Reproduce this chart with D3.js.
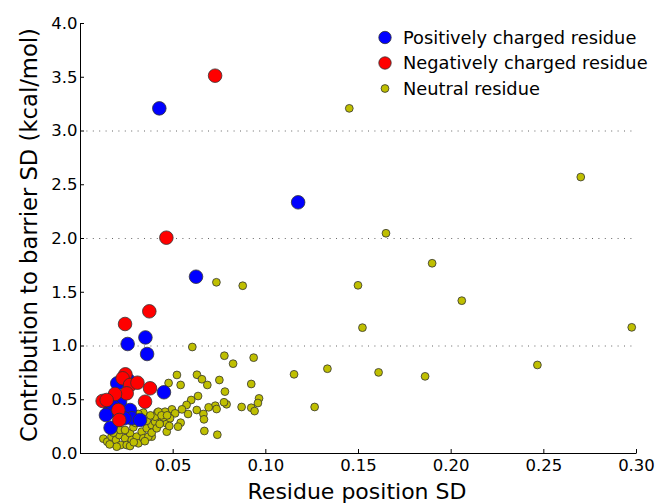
<!DOCTYPE html>
<html>
<head>
<meta charset="utf-8">
<script src="https://cdn.jsdelivr.net/npm/d3@7/dist/d3.min.js"></script>
<style>
  html, body { margin: 0; padding: 0; background: #fff; }
  svg { display: block; font-family: "DejaVu Sans", sans-serif; }
</style>
</head>
<body>
<svg id="chart" width="657" height="504"></svg>
<script>
// ---- data (x = residue position SD, y = contribution to barrier SD) ----
const positiveX = [0.0428, 0.1177, 0.0626, 0.0353, 0.0257, 0.0362, 0.0453, 0.0201, 0.0260, 0.0216, 0.0158, 0.0180, 0.0270, 0.0279, 0.0324, 0.0239, 0.0165, 0.0140];
const positiveY = [3.206, 2.332, 1.640, 1.075, 1.014, 0.921, 0.565, 0.648, 0.679, 0.477, 0.384, 0.431, 0.400, 0.323, 0.307, 0.323, 0.235, 0.353];

const negativeX = [0.0729, 0.0466, 0.0374, 0.0243, 0.0245, 0.0230, 0.0270, 0.0310, 0.0378, 0.0252, 0.0189, 0.0122, 0.0144, 0.0351, 0.0207, 0.0212];
const negativeY = [3.510, 2.003, 1.318, 1.200, 0.732, 0.695, 0.633, 0.654, 0.602, 0.555, 0.549, 0.484, 0.493, 0.477, 0.400, 0.307];

const neutralX = [
  0.1453, 0.2702, 0.1651, 0.1900, 0.0736, 0.0878, 0.1500, 0.2060, 0.1524, 0.2977,
  0.1335, 0.1611, 0.1862, 0.2468, 0.1155, 0.1266, 0.0966, 0.0960,
  0.0606, 0.0779, 0.0937, 0.0826, 0.0523, 0.0631, 0.0658, 0.0687, 0.0752, 0.0478,
  0.0543, 0.0924, 0.0782, 0.0637, 0.0600, 0.0575, 0.0791, 0.0777, 0.0730, 0.0737,
  0.0694, 0.0872, 0.0924, 0.0942, 0.0630, 0.0666, 0.0669, 0.0583, 0.0550, 0.0496,
  0.0513, 0.0543, 0.0529, 0.0671, 0.0741, 0.0468, 0.0468, 0.0459, 0.0450, 0.0417,
  0.0414, 0.0400, 0.0387, 0.0387, 0.0486, 0.0482,
  0.0126, 0.0147, 0.0170, 0.0194, 0.0212, 0.0220, 0.0243, 0.0252, 0.0270, 0.0279,
  0.0306, 0.0315, 0.0333, 0.0342, 0.0360, 0.0369, 0.0387, 0.0387, 0.0405, 0.0414,
  0.0342, 0.0315, 0.0216, 0.0180, 0.0288, 0.0243, 0.0198, 0.0270, 0.0405, 0.0423,
  0.0300, 0.0330, 0.0360, 0.0380, 0.0440, 0.0290, 0.0160, 0.0350, 0.0430, 0.0470
];
const neutralY = [
  3.206, 2.567, 2.044, 1.765, 1.588, 1.556, 1.560, 1.417, 1.166, 1.169,
  0.784, 0.750, 0.713, 0.819, 0.732, 0.428, 0.508, 0.465,
  0.986, 0.905, 0.887, 0.831, 0.726, 0.728, 0.686, 0.633, 0.679, 0.651,
  0.633, 0.642, 0.571, 0.530, 0.493, 0.447, 0.453, 0.472, 0.440, 0.409,
  0.425, 0.428, 0.421, 0.390, 0.400, 0.363, 0.313, 0.363, 0.406, 0.406,
  0.369, 0.282, 0.245, 0.205, 0.170, 0.275, 0.198, 0.384, 0.332, 0.375,
  0.323, 0.275, 0.230, 0.152, 0.323, 0.251,
  0.133, 0.105, 0.152, 0.121, 0.167, 0.074, 0.137, 0.074, 0.183, 0.121,
  0.152, 0.090, 0.198, 0.137, 0.230, 0.152, 0.260, 0.189, 0.291, 0.230,
  0.375, 0.363, 0.214, 0.189, 0.239, 0.214, 0.059, 0.065, 0.338, 0.384,
  0.280, 0.320, 0.300, 0.350, 0.350, 0.100, 0.080, 0.110, 0.270, 0.350
];

const xTicks = [0.05, 0.10, 0.15, 0.20, 0.25, 0.30];
const yTicks = [0.0, 0.5, 1.0, 1.5, 2.0, 2.5, 3.0, 3.5, 4.0];
const gridValues = [1.0, 2.0, 3.0];
const legendLabels = ["Positively charged residue", "Negatively charged residue", "Neutral residue"];

(function () {
  const svg = d3.select("#chart");
  const pL = 80, pR = 636, pT = 23, pB = 453;
  const x = d3.scaleLinear().domain([0, 0.30]).range([pL, pR]);
  const y = d3.scaleLinear().domain([0, 4.0]).range([pB, pT]);

  // grid lines
  svg.append("g").selectAll("line").data(gridValues).join("line")
    .attr("x1", pL).attr("x2", pR)
    .attr("y1", d => y(d) + 0.5).attr("y2", d => y(d) + 0.5)
    .attr("stroke", "#666").attr("stroke-width", 1)
    .attr("stroke-dasharray", "1,5.4");

  // points
  const toPts = (xs, ys) => xs.map((v, i) => ({x: v, y: ys[i]}));
  function drawPts(pts, r, fill) {
    svg.append("g").selectAll("circle").data(pts).join("circle")
      .attr("cx", d => x(d.x)).attr("cy", d => y(d.y)).attr("r", r)
      .attr("fill", fill).attr("stroke", "#333").attr("stroke-width", 0.8);
  }
  drawPts(toPts(neutralX, neutralY), 3.9, "#bfbf00");
  drawPts(toPts(positiveX, positiveY), 6.8, "#0000ff");
  drawPts(toPts(negativeX, negativeY), 6.8, "#ff0000");

  // axes
  const xAxis = d3.axisBottom(x).tickValues(xTicks).tickSizeInner(-4).tickSizeOuter(0)
    .tickPadding(6.5).tickFormat(d3.format(".2f"));
  const gx = svg.append("g").attr("transform", `translate(0,${pB})`).call(xAxis);
  gx.selectAll("text").attr("font-size", 16.5).attr("font-family", "DejaVu Sans").attr("fill", "#000");

  const yAxis = d3.axisLeft(y).tickValues(yTicks).tickSizeInner(-4).tickSizeOuter(0)
    .tickPadding(2.5).tickFormat(d3.format(".1f"));
  const gy = svg.append("g").attr("transform", `translate(${pL},0)`).call(yAxis);
  gy.selectAll("text").attr("font-size", 16.5).attr("font-family", "DejaVu Sans").attr("fill", "#000");
  [gx, gy].forEach(g => {
    g.select(".domain").attr("stroke", "#000").attr("stroke-width", 1);
    g.selectAll(".tick line").attr("stroke", "#000");
  });

  // axis titles
  svg.append("text").attr("x", 357).attr("y", 499)
    .attr("text-anchor", "middle").attr("font-size", 22).text("Residue position SD");
  svg.append("text").attr("transform", `translate(37,235) rotate(-90)`)
    .attr("text-anchor", "middle").attr("font-size", 22.7).text("Contribution to barrier SD (kcal/mol)");

  // legend
  const legend = [
    {label: legendLabels[0], fill: "#0000ff", r: 6.2, cy: 37.5},
    {label: legendLabels[1], fill: "#ff0000", r: 6.2, cy: 63},
    {label: legendLabels[2], fill: "#bfbf00", r: 3.9, cy: 88.5}
  ];
  const lg = svg.append("g");
  lg.selectAll("circle").data(legend).join("circle")
    .attr("cx", 385).attr("cy", d => d.cy).attr("r", d => d.r)
    .attr("fill", d => d.fill).attr("stroke", "#333").attr("stroke-width", 0.8);
  lg.selectAll("text").data(legend).join("text")
    .attr("x", 403).attr("y", d => d.cy).attr("dy", "0.35em")
    .attr("font-size", 17.8).text(d => d.label);
})();
</script>
</body>
</html>
